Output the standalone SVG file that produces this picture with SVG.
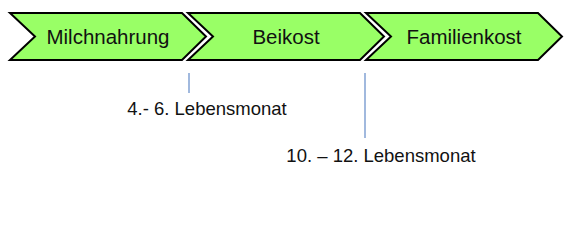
<svg xmlns="http://www.w3.org/2000/svg" width="580" height="249" viewBox="0 0 580 249">
<style>
.chev{fill:#99ff66;stroke:#000;stroke-width:2;stroke-linejoin:miter}
.lbl{font-family:"Liberation Sans",Arial,sans-serif;font-size:20.5px;fill:#111;text-anchor:middle}
.note{font-family:"Liberation Sans",Arial,sans-serif;font-size:18.5px;fill:#111;text-anchor:middle}
.tick{stroke:#6f94cc;stroke-width:1.3}
</style>
<rect width="580" height="249" fill="#fff"/>
<g id="milchnahrung">
<path class="chev" d="M10,13 L182,13 L206,36.5 L182,60 L10,60 L35,36.5 Z"/>
<text class="lbl" x="108" y="44">Milchnahrung</text>
</g>
<g id="beikost">
<path class="chev" d="M188,13 L360,13 L384,36.5 L360,60 L188,60 L213,36.5 Z"/>
<text class="lbl" x="286" y="44">Beikost</text>
</g>
<g id="familienkost">
<path class="chev" d="M366,13 L538,13 L562,36.5 L538,60 L366,60 L391,36.5 Z"/>
<text class="lbl" x="464" y="44">Familienkost</text>
</g>
<g id="connectors">
<line class="tick" x1="189" y1="73" x2="189" y2="93"/>
<line class="tick" x1="365" y1="73" x2="365" y2="138"/>
</g>
<g id="label-4-6">
<text class="note" x="207" y="115">4.- 6. Lebensmonat</text>
</g>
<g id="label-10-12">
<text class="note" x="381" y="162">10. – 12. Lebensmonat</text>
</g>
</svg>
